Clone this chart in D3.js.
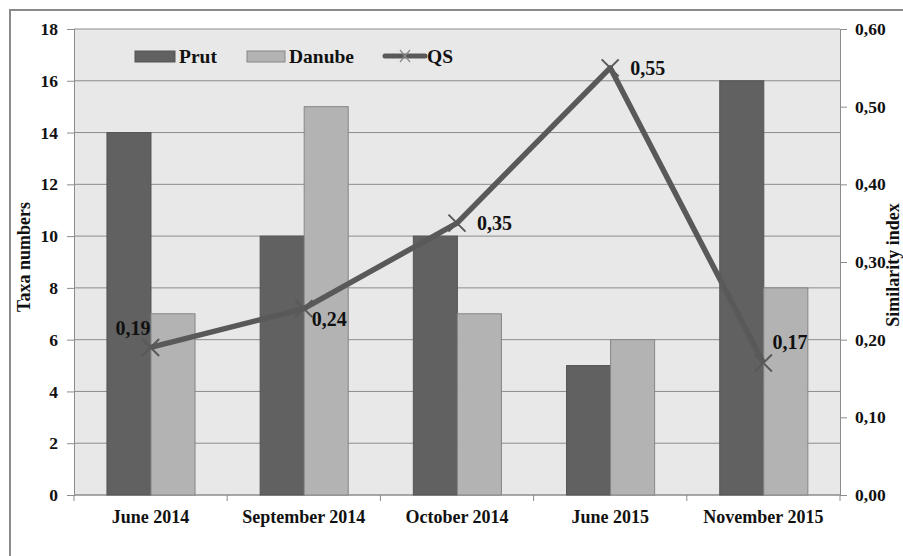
<!DOCTYPE html>
<html>
<head>
<meta charset="utf-8">
<script src="https://cdn.jsdelivr.net/npm/d3@7"></script>
<style>
  body { margin: 0; background: #fff; }
  svg text { font-family: "Liberation Serif", "DejaVu Serif", "Times New Roman", serif !important; font-weight: bold; fill: #111; }
</style>
</head>
<body>
<div id="chart"></div>
<script>
const categories = ['June 2014', 'September 2014', 'October 2014', 'June 2015', 'November 2015'];
const series = ['Prut', 'Danube'];
const prut = [14, 10, 10, 5, 16];
const danube = [7, 15, 7, 6, 8];
const qs = [0.19, 0.24, 0.35, 0.55, 0.17];
const leftTicks = [0, 2, 4, 6, 8, 10, 12, 14, 16, 18];
const rightTicks = [0, 0.1, 0.2, 0.3, 0.4, 0.5, 0.6];

const width = 903, height = 556;
const plot = { left: 74, right: 840, top: 29, bottom: 495 };
const serif = '"Liberation Serif", "DejaVu Serif", serif';

const svg = d3.select('#chart').append('svg')
  .attr('width', width)
  .attr('height', height)
  .attr('font-family', serif);

// outer chart border
svg.append('rect')
  .attr('x', 10).attr('y', 10)
  .attr('width', 1000).attr('height', 1000)
  .attr('fill', '#fff')
  .attr('stroke', '#8a8a8a')
  .attr('stroke-width', 2);

const x0 = d3.scaleBand()
  .domain(categories)
  .range([plot.left, plot.right])
  .padding(0);

const bw = x0.bandwidth();
const x1 = d3.scaleBand()
  .domain(series)
  .range([bw * 0.215, bw * 0.79])
  .padding(0);

const yL = d3.scaleLinear().domain([0, 18]).range([plot.bottom, plot.top]);
const yR = d3.scaleLinear().domain([0, 0.6]).range([plot.bottom, plot.top]);

// plot background
svg.append('rect')
  .attr('x', plot.left).attr('y', plot.top)
  .attr('width', plot.right - plot.left)
  .attr('height', plot.bottom - plot.top)
  .attr('fill', '#e8e8e8');

// gridlines
svg.append('g')
  .selectAll('line')
  .data(leftTicks)
  .join('line')
  .attr('x1', plot.left).attr('x2', plot.right)
  .attr('y1', d => yL(d)).attr('y2', d => yL(d))
  .attr('stroke', '#8c8c8c')
  .attr('stroke-width', 1);

function styleAxis(g) {
  g.attr('font-family', serif);
  g.select('.domain').attr('stroke', '#8c8c8c');
  g.selectAll('.tick line').attr('stroke', '#8c8c8c');
  g.selectAll('.tick text')
    .style('font-size', '17.5px')
    .style('font-family', serif)
    .style('font-weight', 'bold')
    .attr('fill', '#111');
}

// left axis
svg.append('g')
  .attr('transform', `translate(${plot.left},0)`)
  .call(d3.axisLeft(yL).tickValues(leftTicks).tickSize(7).tickPadding(9))
  .call(styleAxis);

// right axis
svg.append('g')
  .attr('transform', `translate(${plot.right},0)`)
  .call(d3.axisRight(yR).tickValues(rightTicks).tickSize(7).tickPadding(8)
    .tickFormat(d => d3.format('.2f')(d).replace('.', ',')))
  .call(styleAxis);

// bottom axis: ticks on band boundaries
const bottom = svg.append('g');
bottom.append('line')
  .attr('x1', plot.left).attr('x2', plot.right)
  .attr('y1', plot.bottom).attr('y2', plot.bottom)
  .attr('stroke', '#8c8c8c');
bottom.selectAll('line.tk')
  .data(categories.concat(['end']))
  .join('line')
  .attr('class', 'tk')
  .attr('x1', (d, i) => i < categories.length ? x0(d) : plot.right)
  .attr('x2', (d, i) => i < categories.length ? x0(d) : plot.right)
  .attr('y1', plot.bottom).attr('y2', plot.bottom + 6)
  .attr('stroke', '#8c8c8c');
bottom.selectAll('text')
  .data(categories)
  .join('text')
  .attr('x', d => x0(d) + bw / 2)
  .attr('y', 523)
  .attr('text-anchor', 'middle')
  .style('font-size', '18px')
  .text(d => d);

// bars
const barData = categories.map((c, i) => ({ cat: c, values: [
  { key: 'Prut', v: prut[i] },
  { key: 'Danube', v: danube[i] }
]}));
const colors = { Prut: '#616161', Danube: '#b3b3b3' };
const strokes = { Prut: '#555555', Danube: '#868686' };

svg.append('g')
  .selectAll('g')
  .data(barData)
  .join('g')
  .attr('transform', d => `translate(${x0(d.cat)},0)`)
  .selectAll('rect')
  .data(d => d.values)
  .join('rect')
  .attr('x', d => x1(d.key))
  .attr('y', d => yL(d.v))
  .attr('width', x1.bandwidth())
  .attr('height', d => plot.bottom - yL(d.v))
  .attr('fill', d => colors[d.key])
  .attr('stroke', d => strokes[d.key])
  .attr('stroke-width', 1);

// QS line
const qsPoints = categories.map((c, i) => ({ cat: c, v: qs[i] }));
const line = d3.line()
  .x(d => x0(d.cat) + bw / 2)
  .y(d => yR(d.v));
svg.append('path')
  .datum(qsPoints)
  .attr('d', line)
  .attr('fill', 'none')
  .attr('stroke', '#595959')
  .attr('stroke-width', 5.5)
  .attr('stroke-linejoin', 'round');

// X markers
const m = 8.5;
svg.append('g')
  .selectAll('path')
  .data(qsPoints)
  .join('path')
  .attr('d', d => {
    const cx = x0(d.cat) + bw / 2, cy = yR(d.v);
    return `M${cx - m},${cy - m}L${cx + m},${cy + m}M${cx - m},${cy + m}L${cx + m},${cy - m}`;
  })
  .attr('stroke', '#595959')
  .attr('stroke-width', 2);

// data labels (offsets per point, as placed in the original)
const labelPos = [
  { dx: 0, dy: -12, anchor: 'end' },
  { dx: 8, dy: 17, anchor: 'start' },
  { dx: 20, dy: 7, anchor: 'start' },
  { dx: 20, dy: 7, anchor: 'start' },
  { dx: 9, dy: -14, anchor: 'start' }
];
svg.append('g')
  .selectAll('text')
  .data(qsPoints)
  .join('text')
  .attr('x', (d, i) => x0(d.cat) + bw / 2 + labelPos[i].dx)
  .attr('y', (d, i) => yR(d.v) + labelPos[i].dy)
  .attr('text-anchor', (d, i) => labelPos[i].anchor)
  .style('font-size', '20px')
  .text(d => d3.format('.2f')(d.v).replace('.', ','));

// axis titles
svg.append('text')
  .attr('transform', `translate(30,257) rotate(-90)`)
  .attr('text-anchor', 'middle')
  .style('font-size', '18px')
  .text('Taxa numbers');
svg.append('text')
  .attr('transform', `translate(899,265) rotate(-90)`)
  .attr('text-anchor', 'middle')
  .style('font-size', '18px')
  .text('Similarity index');

// legend
const legend = svg.append('g');
legend.append('rect')
  .attr('x', 135).attr('y', 51).attr('width', 40).attr('height', 11)
  .attr('fill', colors.Prut).attr('stroke', strokes.Prut);
legend.append('text').attr('x', 179).attr('y', 63).style('font-size', '19.5px').text('Prut');
legend.append('rect')
  .attr('x', 247).attr('y', 51).attr('width', 38).attr('height', 11)
  .attr('fill', colors.Danube).attr('stroke', strokes.Danube);
legend.append('text').attr('x', 289).attr('y', 63).style('font-size', '19.5px').text('Danube');
legend.append('line')
  .attr('x1', 385).attr('x2', 425).attr('y1', 56).attr('y2', 56)
  .attr('stroke', '#595959').attr('stroke-width', 5).attr('stroke-linecap', 'round');
legend.append('path')
  .attr('d', 'M400,50L410,62M400,62L410,50')
  .attr('stroke', '#8a8a8a').attr('stroke-width', 1.2);
legend.append('text').attr('x', 427).attr('y', 63).style('font-size', '19.5px').text('QS');
</script>
</body>
</html>
